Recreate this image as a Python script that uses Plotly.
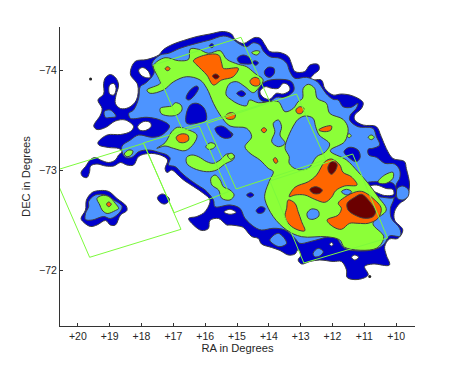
import plotly.graph_objects as go

# Axis ticks
ra_ticks = [20, 19, 18, 17, 16, 15, 14, 13, 12, 11, 10]
ra_labels = ["+20", "+19", "+18", "+17", "+16", "+15", "+14", "+13", "+12", "+11", "+10"]
dec_ticks = [-74, -73, -72]
dec_labels = ["\u221274", "\u221273", "\u221272"]

# Contours as (RA, DEC) outlines
lvl1_main = [(15.43,-74.39),(15.17,-74.365),(15.06,-74.31),(14.80,-74.27),(14.59,-74.305),(14.44,-74.33),(14.26,-74.32),(14.12,-74.255),(13.97,-74.19),(13.65,-74.18),(13.39,-74.14),(13.29,-74.07),(13.18,-73.99),(12.87,-73.99),(12.71,-74.055),(12.45,-74.06),(12.42,-74.01),(12.61,-73.955),(12.71,-73.905),(12.35,-73.905),(12.24,-73.82),(11.98,-73.755),(11.72,-73.765),(11.36,-73.745),(11.04,-73.68),(11.09,-73.62),(11.30,-73.555),(11.30,-73.505),(11.04,-73.455),(10.63,-73.44),(10.47,-73.34),(10.31,-73.22),(10.10,-73.12),(9.74,-73.09),(9.68,-73.02),(9.58,-72.855),(9.68,-72.72),(9.89,-72.67),(10.05,-72.59),(10.05,-72.505),(9.79,-72.405),(9.95,-72.32),(10.21,-72.315),(10.36,-72.24),(10.31,-72.155),(10.21,-72.055),(10.73,-72.065),(10.99,-72.04),(10.88,-71.955),(11.2,-71.91),(11.54,-71.93),(11.56,-72.005),(11.72,-72.09),(11.98,-72.09),(12.40,-72.105),(12.71,-72.09),(12.97,-72.065),(13.08,-72.105),(12.99,-72.155),(13.08,-72.21),(13.18,-72.165),(13.39,-72.155),(13.65,-72.20),(13.91,-72.23),(14.23,-72.265),(14.33,-72.32),(14.54,-72.34),(14.80,-72.43),(14.96,-72.445),(15.22,-72.455),(15.32,-72.455),(15.58,-72.52),(15.85,-72.50),(15.90,-72.42),(16.11,-72.40),(16.37,-72.455),(16.52,-72.52),(16.26,-72.54),(16.0,-72.59),(15.85,-72.705),(16.05,-72.77),(16.37,-72.84),(16.68,-72.905),(16.89,-72.965),(17.05,-73.005),(17.2,-72.98),(17.26,-73.02),(17.18,-73.105),(17.41,-73.155),(17.78,-73.17),(18.09,-73.14),(18.25,-73.055),(18.46,-73.055),(18.66,-73.08),(18.87,-73.045),(19.13,-73.045),(19.4,-73.065),(19.6,-73.045),(19.63,-72.99),(19.71,-72.93),(19.85,-72.94),(19.9,-72.98),(19.76,-73.04),(19.6,-73.11),(19.45,-73.13),(19.29,-73.105),(19.03,-73.08),(18.82,-73.105),(18.72,-73.155),(18.61,-73.19),(18.72,-73.22),(19.03,-73.23),(19.34,-73.255),(19.37,-73.28),(19.08,-73.355),(18.66,-73.36),(18.35,-73.39),(18.25,-73.44),(18.51,-73.505),(18.82,-73.495),(19.13,-73.43),(19.4,-73.41),(19.5,-73.445),(19.29,-73.555),(19.24,-73.62),(19.37,-73.705),(19.19,-73.765),(19.19,-73.87),(19.13,-73.93),(18.98,-73.96),(18.82,-73.93),(18.72,-73.855),(18.8,-73.755),(18.82,-73.67),(18.66,-73.62),(18.4,-73.63),(18.16,-73.705),(18.12,-73.855),(18.35,-73.965),(18.2,-74.09),(17.83,-74.11),(17.46,-74.155),(17.31,-74.21),(17.0,-74.265),(16.68,-74.30),(16.26,-74.34),(15.85,-74.365)]
lvl1_west = [(19.55,-72.78),(19.29,-72.80),(19.03,-72.79),(18.77,-72.72),(18.48,-72.645),(18.46,-72.60),(18.66,-72.555),(18.82,-72.455),(18.98,-72.455),(19.13,-72.50),(19.4,-72.455),(19.6,-72.44),(19.81,-72.48),(19.9,-72.52),(19.76,-72.605),(19.73,-72.705)]
lvl1_knot = [(17.5,-72.73),(17.36,-72.765),(17.2,-72.745),(17.12,-72.705),(17.26,-72.665),(17.41,-72.68)]

lvl2_main = [(17.15,-74.172),(16.79,-74.222),(16.26,-74.272),(15.85,-74.305),(15.43,-74.345),(15.17,-74.322),(14.96,-74.272),(14.7,-74.238),(14.49,-74.278),(14.28,-74.255),(14.18,-74.198),(13.97,-74.138),(13.65,-74.122),(13.44,-74.072),(13.34,-73.988),(13.18,-73.922),(12.82,-73.932),(12.48,-73.888),(12.35,-73.838),(12.19,-73.765),(11.98,-73.712),(11.82,-73.705),(11.67,-73.638),(11.41,-73.632),(11.2,-73.672),(11.25,-73.622),(11.44,-73.555),(11.46,-73.505),(11.2,-73.438),(10.73,-73.422),(10.62,-73.338),(10.52,-73.255),(10.73,-73.222),(10.88,-73.212),(10.86,-73.155),(10.62,-73.132),(10.36,-73.072),(10.05,-73.065),(9.89,-73.005),(9.89,-72.922),(9.99,-72.865),(10.03,-72.788),(10.08,-72.705),(10.18,-72.622),(10.15,-72.522),(9.89,-72.422),(9.87,-72.345),(10.21,-72.345),(10.36,-72.272),(10.57,-72.222),(11.09,-72.195),(11.62,-72.222),(11.88,-72.322),(12.09,-72.338),(12.4,-72.315),(12.71,-72.288),(13.03,-72.272),(13.18,-72.322),(13.49,-72.405),(13.86,-72.422),(14.23,-72.405),(14.44,-72.432),(14.75,-72.522),(14.91,-72.622),(15.22,-72.655),(15.69,-72.638),(15.74,-72.705),(16.0,-72.805),(16.16,-72.838),(16.47,-72.905),(16.73,-72.972),(16.94,-73.038),(17.15,-73.055),(17.1,-73.122),(17.2,-73.155),(17.41,-73.178),(17.78,-73.205),(18.09,-73.188),(18.3,-73.132),(18.51,-73.132),(18.61,-73.188),(18.61,-73.245),(18.35,-73.305),(18.09,-73.355),(17.67,-73.332),(17.36,-73.355),(17.12,-73.445),(17.41,-73.505),(17.83,-73.532),(18.35,-73.522),(18.4,-73.572),(18.25,-73.605),(18.09,-73.722),(18.04,-73.838),(17.88,-73.872),(17.67,-73.938),(17.6,-73.988),(17.67,-74.072),(17.41,-74.155)]
lvl2_west = [(19.66,-72.69),(19.45,-72.755),(19.13,-72.755),(18.87,-72.705),(18.61,-72.64),(18.72,-72.57),(18.98,-72.52),(19.19,-72.54),(19.55,-72.505),(19.76,-72.51),(19.76,-72.57),(19.66,-72.64)]
lvl2_finger = [(19.17,-73.59),(18.98,-73.605),(18.8,-73.54),(18.98,-73.53),(19.13,-73.53)]
lvl2_south_a = [(13.97,-72.305),(13.7,-72.372),(13.44,-72.272),(13.65,-72.238),(13.86,-72.265)]
lvl2_south_b = [(12.61,-72.172),(12.45,-72.222),(12.29,-72.188),(12.4,-72.145),(12.56,-72.138)]
lvl2_east = [(9.96,-72.822),(9.79,-72.845),(9.61,-72.805),(9.63,-72.738),(9.81,-72.705),(9.96,-72.722),(9.99,-72.772)]

lvl1_in_a = [(14.99,-74.122),(14.8,-74.155),(14.59,-74.122),(14.54,-74.072),(14.75,-74.065),(14.93,-74.078)]
lvl1_in_b = [(14.52,-74.078),(14.44,-74.098),(14.33,-74.078),(14.41,-74.052)]
lvl1_in_c = [(14.14,-73.988),(14.02,-74.032),(13.84,-74.022),(13.83,-73.972),(13.96,-73.932),(14.09,-73.945)]
lvl1_in_d = [(15.01,-73.772),(14.85,-73.798),(14.73,-73.765),(14.85,-73.738)]
lvl1_in_e = [(12.86,-73.482),(12.8,-73.505),(12.72,-73.482),(12.8,-73.462)]
lvl1_in_f = [(13.18,-73.355),(13.06,-73.382),(12.87,-73.332),(12.87,-73.278),(13.03,-73.278),(13.16,-73.305)]
lvl1_in_g = [(11.64,-73.188),(11.46,-73.232),(11.2,-73.205),(11.13,-73.132),(11.25,-73.088),(11.46,-73.122)]
lvl1_in_h = [(15.28,-73.36),(15.2,-73.385),(15.13,-73.36),(15.2,-73.335)]
lvl1_in_i = [(16.6,-73.722),(16.47,-73.805),(16.26,-73.845),(16.21,-73.822),(16.37,-73.738),(16.52,-73.705)]
lvl1_in_j = [(16.47,-73.655),(16.26,-73.672),(16.03,-73.622),(15.97,-73.505),(16.26,-73.472),(16.58,-73.472),(16.6,-73.555)]
lvl1_in_k = [(15.69,-73.422),(15.48,-73.445),(15.22,-73.388),(15.17,-73.338),(15.38,-73.322),(15.58,-73.355)]
lvl1_in_l = [(15.87,-74.248),(15.79,-74.268),(15.72,-74.248),(15.79,-74.228)]
lvl1_in_m = [(14.7,-72.755),(14.57,-72.778),(14.47,-72.755),(14.59,-72.732)]
lvl1_in_n = [(14.4,-72.598),(14.26,-72.638),(14.12,-72.622),(14.17,-72.582),(14.33,-72.572)]
lvl1_ring_e = [(10.94,-72.872),(10.62,-72.888),(10.1,-72.872),(9.99,-72.805),(10.05,-72.732),(10.42,-72.732),(10.73,-72.755),(10.92,-72.812)]
lvl1_ring_n = [(14.33,-73.805),(14.12,-73.888),(13.65,-73.912),(13.29,-73.888),(13.21,-73.805),(13.49,-73.732),(13.76,-73.732),(13.99,-73.688),(14.26,-73.705)]

hole_a = [(19.0,-73.855),(18.87,-73.87),(18.8,-73.82),(18.87,-73.755),(19.0,-73.765),(19.03,-73.81)]
hole_b = [(18.09,-74.005),(17.96,-74.03),(17.78,-73.99),(17.73,-73.93),(17.88,-73.93),(18.02,-73.955)]
hole_c = [(18.12,-73.44),(17.93,-73.49),(17.73,-73.48),(17.7,-73.44),(17.88,-73.40),(18.06,-73.405)]
hole_d = [(11.4,-72.132),(11.3,-72.155),(11.18,-72.132),(11.3,-72.105)]
hole_e = [(10.85,-72.84),(10.62,-72.855),(10.31,-72.82),(10.1,-72.81),(10.08,-72.76),(10.36,-72.75),(10.62,-72.78),(10.78,-72.805)]
hole_f = [(12.09,-72.262),(12.03,-72.28),(11.98,-72.262),(12.03,-72.245)]
hole_g = [(15.41,-72.585),(15.22,-72.612),(15.03,-72.58),(15.22,-72.562)]
hole_h = [(14.28,-73.788),(14.12,-73.838),(13.91,-73.822),(13.7,-73.822),(13.55,-73.872),(13.39,-73.855),(13.34,-73.805),(13.55,-73.765),(13.76,-73.772),(13.97,-73.712),(14.18,-73.732)]

lvl3_main = [(17.62,-74.048),(17.26,-74.128),(16.84,-74.098),(16.52,-74.112),(16.47,-74.215),(16.21,-74.212),(15.9,-74.172),(15.53,-74.198),(15.32,-74.112),(14.96,-74.062),(14.7,-74.038),(14.44,-73.972),(14.18,-73.905),(14.33,-73.822),(14.49,-73.778),(14.75,-73.838),(15.01,-73.888),(15.22,-73.872),(15.32,-73.822),(15.34,-73.755),(15.17,-73.705),(14.96,-73.665),(14.7,-73.648),(14.61,-73.705),(14.33,-73.678),(13.97,-73.688),(13.7,-73.688),(13.49,-73.588),(13.23,-73.622),(13.08,-73.688),(12.94,-73.722),(12.92,-73.822),(12.76,-73.862),(12.56,-73.822),(12.48,-73.722),(12.19,-73.672),(12.09,-73.572),(11.67,-73.512),(11.51,-73.422),(11.62,-73.288),(12.07,-73.198),(11.56,-73.105),(11.2,-72.988),(10.88,-72.872),(10.57,-72.738),(10.31,-72.605),(10.73,-72.472),(10.39,-72.338),(10.62,-72.222),(11.62,-72.232),(11.77,-72.305),(12.19,-72.338),(12.97,-72.338),(13.44,-72.405),(13.86,-72.538),(14.12,-72.705),(14.12,-72.772),(13.97,-72.905),(13.86,-72.988),(14.02,-73.022),(14.28,-73.105),(14.59,-73.172),(14.75,-73.238),(14.54,-73.338),(14.7,-73.422),(15.22,-73.445),(15.53,-73.555),(15.74,-73.672),(15.95,-73.822),(16.16,-73.905),(16.58,-73.938),(16.99,-73.888),(17.31,-73.805),(17.73,-73.772),(17.83,-73.805),(17.41,-73.872),(17.46,-73.922)]
lvl3_west = [(19.4,-72.72),(19.24,-72.75),(19.03,-72.74),(18.82,-72.67),(18.72,-72.62),(18.82,-72.60),(19.08,-72.57),(19.24,-72.605),(19.31,-72.655)]
lvl3_a = [(17.41,-73.622),(17.2,-73.638),(17.05,-73.645),(16.94,-73.678),(16.76,-73.655),(16.73,-73.605),(16.89,-73.555),(17.2,-73.548),(17.39,-73.572)]
lvl3_b = [(17.52,-73.222),(17.26,-73.278),(17.05,-73.388),(16.87,-73.432),(16.58,-73.412),(16.26,-73.355),(16.35,-73.272),(16.63,-73.198),(17.0,-73.222),(17.26,-73.245)]
lvl3_c = [(15.98,-73.238),(15.83,-73.278),(15.67,-73.255),(15.74,-73.222),(15.9,-73.212)]
lvl3_d = [(16.58,-73.132),(16.42,-73.155),(16.21,-73.138),(15.95,-73.088),(15.74,-73.072),(15.53,-73.105),(15.32,-73.165),(15.09,-73.155),(15.11,-73.112),(15.38,-73.065),(15.64,-73.005),(15.95,-72.988),(16.37,-73.022),(16.58,-73.072)]
lvl3_e = [(15.82,-72.922),(15.69,-72.955),(15.53,-72.905),(15.43,-72.838),(15.22,-72.805),(15.09,-72.755),(15.22,-72.705),(15.48,-72.722),(15.58,-72.805),(15.79,-72.855)]
lvl3_f = [(15.3,-73.155),(15.17,-73.172),(15.08,-73.138),(15.2,-73.112)]
lvl3_g = [(18.54,-73.165),(18.4,-73.205),(18.27,-73.195),(18.32,-73.155),(18.46,-73.138)]
lvl3_h = [(14.54,-74.178),(14.4,-74.198),(14.28,-74.188),(14.38,-74.155)]
lvl3_i = [(11.54,-73.348),(11.48,-73.368),(11.41,-73.348),(11.48,-73.328)]
lvl3_j = [(10.88,-73.332),(10.78,-73.355),(10.69,-73.332),(10.78,-73.308)]
lvl3_k = [(10.57,-72.888),(10.36,-72.955),(10.1,-72.982),(10.1,-72.922),(10.31,-72.872),(10.52,-72.872)]

pocket_big = [(12.87,-73.545),(12.61,-73.522),(12.53,-73.438),(12.42,-73.355),(12.09,-73.265),(12.24,-73.182),(12.5,-73.138),(12.76,-73.022),(13.13,-73.012),(13.36,-73.072),(13.36,-73.138),(13.49,-73.222),(13.39,-73.338),(13.18,-73.472),(13.08,-73.512)]
pocket_tall = [(13.86,-73.472),(13.7,-73.505),(13.6,-73.438),(13.65,-73.355),(13.49,-73.272),(13.7,-73.238),(13.91,-73.288),(13.81,-73.388)]
pocket_round = [(12.8,-72.572),(12.66,-72.615),(12.45,-72.598),(12.43,-72.545),(12.61,-72.512),(12.76,-72.522)]
pocket_small = [(11.72,-72.788),(11.56,-72.812),(11.4,-72.788),(11.54,-72.755)]

lvl4_upper = [(13.36,-72.738),(13.18,-72.832),(12.76,-72.888),(12.5,-72.955),(12.24,-73.088),(12.03,-73.115),(11.77,-73.055),(11.67,-72.982),(11.41,-72.938),(11.23,-72.855),(11.62,-72.845),(11.9,-72.798),(12.03,-72.732),(12.24,-72.682),(12.56,-72.712),(12.87,-72.755),(13.18,-72.755)]
lvl4_sw = [(13.39,-72.705),(13.18,-72.672),(13.08,-72.588),(12.97,-72.488),(12.87,-72.398),(13.08,-72.405),(13.34,-72.455),(13.49,-72.538),(13.44,-72.622)]
lvl4_east = [(11.82,-72.672),(11.62,-72.732),(11.25,-72.788),(11.04,-72.788),(10.73,-72.722),(10.47,-72.622),(10.57,-72.522),(10.88,-72.472),(11.2,-72.472),(11.46,-72.472),(11.72,-72.412),(11.98,-72.438),(12.17,-72.505),(11.82,-72.555),(11.72,-72.622)]
lvl4_north = [(16.37,-74.098),(16.0,-74.155),(15.58,-74.155),(15.48,-74.072),(15.43,-74.022),(14.96,-74.022),(15.12,-73.938),(15.48,-73.905),(15.74,-73.855),(15.95,-73.955),(16.26,-74.055)]
lvl4_a = [(17.26,-74.018),(17.18,-74.038),(17.1,-74.018),(17.18,-73.998)]
lvl4_b = [(16.91,-73.332),(16.76,-73.365),(16.55,-73.355),(16.52,-73.305),(16.68,-73.278),(16.84,-73.288)]
lvl4_c = [(15.38,-73.538),(15.22,-73.578),(15.06,-73.565),(15.08,-73.522),(15.27,-73.512)]
lvl4_d = [(14.59,-73.898),(14.44,-73.932),(14.28,-73.905),(14.3,-73.855),(14.44,-73.845),(14.56,-73.865)]
lvl4_e = [(14.24,-73.405),(14.15,-73.428),(14.07,-73.405),(14.15,-73.378)]
lvl4_f = [(13.15,-73.605),(13.03,-73.638),(12.9,-73.622),(12.97,-73.572),(13.1,-73.572)]
lvl4_g = [(12.43,-73.405),(12.24,-73.438),(12.03,-73.445),(12.05,-73.405),(12.24,-73.388)]
lvl4_h = [(13.86,-73.112),(13.79,-73.128),(13.72,-73.088),(13.79,-73.072)]
lvl4_west = [(19.1,-72.662),(19.03,-72.685),(18.95,-72.662),(19.03,-72.638)]

lvl5_a = [(12.14,-73.038),(12.03,-73.088),(11.86,-73.065),(11.9,-73.005),(12.03,-72.962),(12.12,-72.988)]
lvl5_b = [(12.71,-72.812),(12.53,-72.838),(12.32,-72.805),(12.4,-72.772),(12.61,-72.772)]
lvl5_c = [(11.54,-72.672),(11.3,-72.732),(11.09,-72.762),(10.83,-72.688),(10.65,-72.588),(10.73,-72.538),(10.99,-72.522),(11.3,-72.555),(11.51,-72.605)]
lvl5_d = [(15.77,-73.945),(15.67,-73.965),(15.56,-73.938),(15.67,-73.915)]

# Survey fields
field_1 = [(17.93,-73.272),(20.8,-72.992),(19.63,-72.132),(16.76,-72.412)]
field_2 = [(17.62,-74.055),(14.875,-74.332),(13.966,-73.685),(16.723,-73.415)]
field_3 = [(15.949,-73.472),(13.13,-73.765),(12.212,-73.108),(15.03,-72.815)]
field_4 = [(17.945,-73.275),(16.19,-73.445),(15.272,-72.788),(16.974,-72.578)]
field_5 = [(13.966,-72.895),(11.366,-73.165),(10.27,-72.325),(12.9,-72.075)]

stray_ra = [19.6, 10.83]
stray_dec = [-73.915, -71.94]

DARK = "#0000CC"
BLUE = "#4D94FF"
LIME = "#8CFF38"
ORANGE = "#FF6600"
MAROON = "#6B0000"
WHITE = "#FFFFFF"
EDGE = "#3F3F3F"
FIELD = "#7CFA3C"

painted = [
    (DARK, [lvl1_main, lvl1_west, lvl1_knot]),
    (BLUE, [lvl2_main, lvl2_west, lvl2_finger, lvl2_south_a, lvl2_south_b, lvl2_east]),
    (DARK, [lvl1_in_a, lvl1_in_b, lvl1_in_c, lvl1_in_d, lvl1_in_e, lvl1_in_f, lvl1_in_g, lvl1_in_h,
            lvl1_in_i, lvl1_in_j, lvl1_in_k, lvl1_in_l, lvl1_in_m, lvl1_in_n, lvl1_ring_e, lvl1_ring_n]),
    (WHITE, [hole_a, hole_b, hole_c, hole_d, hole_e, hole_f, hole_g, hole_h]),
    (LIME, [lvl3_main, lvl3_west, lvl3_a, lvl3_b, lvl3_c, lvl3_d, lvl3_e, lvl3_f, lvl3_g, lvl3_h, lvl3_i, lvl3_j, lvl3_k]),
    (BLUE, [pocket_big, pocket_tall, pocket_round, pocket_small]),
    (ORANGE, [lvl4_upper, lvl4_sw, lvl4_east, lvl4_north, lvl4_a, lvl4_b, lvl4_c, lvl4_d, lvl4_e, lvl4_f, lvl4_g, lvl4_h, lvl4_west]),
    (MAROON, [lvl5_a, lvl5_b, lvl5_c, lvl5_d]),
]

fig = go.Figure()
for colour, outlines in painted:
    for outline in outlines:
        ra = [p[0] for p in outline] + [outline[0][0]]
        dec = [p[1] for p in outline] + [outline[0][1]]
        fig.add_trace(go.Scatter(x=ra, y=dec, mode="lines", fill="toself", fillcolor=colour,
                                 line=dict(color=EDGE, width=1, shape="spline", smoothing=1),
                                 hoverinfo="skip"))

for field in [field_1, field_2, field_3, field_4, field_5]:
    ra = [p[0] for p in field] + [field[0][0]]
    dec = [p[1] for p in field] + [field[0][1]]
    fig.add_trace(go.Scatter(x=ra, y=dec, mode="lines", line=dict(color=FIELD, width=1), hoverinfo="skip"))

fig.add_trace(go.Scatter(x=stray_ra, y=stray_dec, mode="markers",
                         marker=dict(color="#222222", size=3), hoverinfo="skip"))

axis_common = dict(showgrid=False, zeroline=False, showline=True, linecolor="#333333", linewidth=1,
                   ticks="inside", ticklen=3, tickcolor="#333333", tickwidth=1,
                   tickfont=dict(family="Liberation Sans", size=10.5, color="#262626"))
fig.update_layout(
    width=450, height=359, showlegend=False, paper_bgcolor="white", plot_bgcolor="white",
    margin=dict(l=51.5, r=42.5, t=19, b=41),
    xaxis=dict(range=[20.561, 9.408], tickmode="array", tickvals=ra_ticks, ticktext=ra_labels,
               title=dict(text="RA in Degrees", font=dict(family="Liberation Sans", size=11.2, color="#262626"), standoff=2),
               **axis_common),
    yaxis=dict(range=[-71.445, -74.435], tickmode="array", tickvals=dec_ticks, ticktext=dec_labels,
               title=dict(text="DEC in Degrees", font=dict(family="Liberation Sans", size=11.2, color="#262626"), standoff=6),
               **axis_common),
)
fig.write_html("out.html", config=dict(displayModeBar=False))
